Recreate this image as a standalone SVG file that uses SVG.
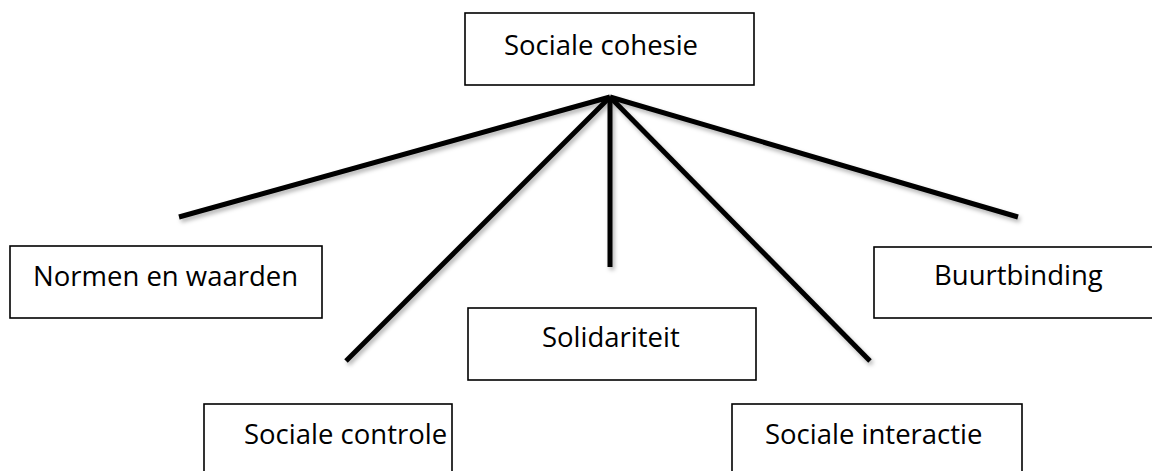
<svg xmlns="http://www.w3.org/2000/svg" width="1152" height="471" viewBox="0 0 1152 471">
  <style>
    .box { fill: #ffffff; stroke: #000000; stroke-width: 1.6; }
    .label { font-family: "Open Sans", "Liberation Sans", sans-serif; font-size: 27.5px; fill: #000000; }
    .link { stroke: #000000; stroke-width: 5; stroke-linecap: butt; fill: none; }
  </style>
  <defs>
    <filter id="soft-shadow" x="-10%" y="-10%" width="120%" height="130%">
      <feDropShadow dx="2" dy="3" stdDeviation="2" flood-color="#000000" flood-opacity="0.3"/>
    </filter>
  </defs>
  <rect width="1152" height="471" fill="#ffffff"/>

  <!-- spokes from the central concept -->
  <g id="connectors" filter="url(#soft-shadow)">
    <line class="link" x1="610" y1="97" x2="179" y2="217"/>
    <line class="link" x1="610" y1="97" x2="346" y2="361"/>
    <line class="link" x1="610" y1="97" x2="610" y2="267"/>
    <line class="link" x1="610" y1="97" x2="870" y2="361"/>
    <line class="link" x1="610" y1="97" x2="1018" y2="217"/>
  </g>

  <g id="node-sociale-cohesie">
    <rect class="box" x="465" y="13" width="289" height="72" stroke-width="2"/>
    <text class="label" x="504" y="55">Sociale cohesie</text>
  </g>

  <g id="node-normen-en-waarden">
    <rect class="box" x="10" y="246" width="312" height="72"/>
    <text class="label" x="33" y="286">Normen en waarden</text>
  </g>

  <g id="node-solidariteit">
    <rect class="box" x="468" y="308" width="288" height="72"/>
    <text class="label" x="542" y="347">Solidariteit</text>
  </g>

  <g id="node-buurtbinding">
    <rect class="box" x="874" y="247" width="300" height="71"/>
    <text class="label" x="934" y="285">Buurtbinding</text>
  </g>

  <g id="node-sociale-controle">
    <rect class="box" x="204" y="404" width="248" height="80"/>
    <text class="label" x="244" y="444">Sociale controle</text>
  </g>

  <g id="node-sociale-interactie">
    <rect class="box" x="732" y="404" width="290" height="80"/>
    <text class="label" x="765" y="444">Sociale interactie</text>
  </g>
</svg>
